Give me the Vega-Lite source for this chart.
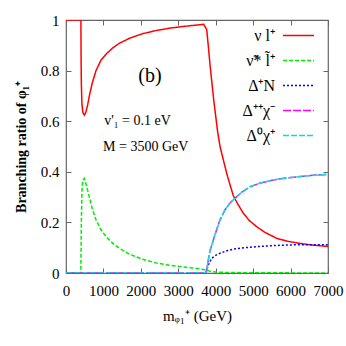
{
  "$schema": "https://vega.github.io/schema/vega-lite/v6.json",
  "width": 262,
  "height": 253,
  "autosize": "none",
  "padding": {"left": 66, "top": 20, "right": 18, "bottom": 73},
  "background": "white",
  "config": {
    "view": {"stroke": "#666666", "strokeWidth": 1.2},
    "font": "Liberation Serif"
  },
  "datasets": {
    "curves": [
      {"m": 0, "br": 1, "ch": "ν l⁺"},
      {"m": 398, "br": 1, "ch": "ν l⁺"},
      {"m": 403, "br": 0.85, "ch": "ν l⁺"},
      {"m": 410, "br": 0.75, "ch": "ν l⁺"},
      {"m": 425, "br": 0.67, "ch": "ν l⁺"},
      {"m": 450, "br": 0.635, "ch": "ν l⁺"},
      {"m": 489, "br": 0.624, "ch": "ν l⁺"},
      {"m": 530, "br": 0.635, "ch": "ν l⁺"},
      {"m": 580, "br": 0.665, "ch": "ν l⁺"},
      {"m": 623, "br": 0.7, "ch": "ν l⁺"},
      {"m": 700, "br": 0.75, "ch": "ν l⁺"},
      {"m": 802, "br": 0.8, "ch": "ν l⁺"},
      {"m": 930, "br": 0.84, "ch": "ν l⁺"},
      {"m": 1069, "br": 0.865, "ch": "ν l⁺"},
      {"m": 1250, "br": 0.89, "ch": "ν l⁺"},
      {"m": 1425, "br": 0.908, "ch": "ν l⁺"},
      {"m": 1700, "br": 0.928, "ch": "ν l⁺"},
      {"m": 2049, "br": 0.946, "ch": "ν l⁺"},
      {"m": 2400, "br": 0.958, "ch": "ν l⁺"},
      {"m": 2779, "br": 0.968, "ch": "ν l⁺"},
      {"m": 3100, "br": 0.974, "ch": "ν l⁺"},
      {"m": 3492, "br": 0.98, "ch": "ν l⁺"},
      {"m": 3680, "br": 0.983, "ch": "ν l⁺"},
      {"m": 3760, "br": 0.962, "ch": "ν l⁺"},
      {"m": 3800, "br": 0.9, "ch": "ν l⁺"},
      {"m": 3850, "br": 0.82, "ch": "ν l⁺"},
      {"m": 3950, "br": 0.68, "ch": "ν l⁺"},
      {"m": 4050, "br": 0.56, "ch": "ν l⁺"},
      {"m": 4115, "br": 0.5, "ch": "ν l⁺"},
      {"m": 4204, "br": 0.447, "ch": "ν l⁺"},
      {"m": 4300, "br": 0.39, "ch": "ν l⁺"},
      {"m": 4471, "br": 0.305, "ch": "ν l⁺"},
      {"m": 4600, "br": 0.27, "ch": "ν l⁺"},
      {"m": 4738, "br": 0.236, "ch": "ν l⁺"},
      {"m": 4900, "br": 0.207, "ch": "ν l⁺"},
      {"m": 5095, "br": 0.183, "ch": "ν l⁺"},
      {"m": 5300, "br": 0.162, "ch": "ν l⁺"},
      {"m": 5630, "br": 0.137, "ch": "ν l⁺"},
      {"m": 5900, "br": 0.126, "ch": "ν l⁺"},
      {"m": 6253, "br": 0.117, "ch": "ν l⁺"},
      {"m": 6600, "br": 0.11, "ch": "ν l⁺"},
      {"m": 7000, "br": 0.105, "ch": "ν l⁺"},

      {"m": 0, "br": 0, "ch": "ν̃* l̃⁺"},
      {"m": 395, "br": 0, "ch": "ν̃* l̃⁺"},
      {"m": 400, "br": 0.05, "ch": "ν̃* l̃⁺"},
      {"m": 410, "br": 0.2, "ch": "ν̃* l̃⁺"},
      {"m": 425, "br": 0.32, "ch": "ν̃* l̃⁺"},
      {"m": 445, "br": 0.365, "ch": "ν̃* l̃⁺"},
      {"m": 489, "br": 0.374, "ch": "ν̃* l̃⁺"},
      {"m": 540, "br": 0.35, "ch": "ν̃* l̃⁺"},
      {"m": 623, "br": 0.3, "ch": "ν̃* l̃⁺"},
      {"m": 700, "br": 0.255, "ch": "ν̃* l̃⁺"},
      {"m": 802, "br": 0.21, "ch": "ν̃* l̃⁺"},
      {"m": 930, "br": 0.172, "ch": "ν̃* l̃⁺"},
      {"m": 1069, "br": 0.144, "ch": "ν̃* l̃⁺"},
      {"m": 1250, "br": 0.117, "ch": "ν̃* l̃⁺"},
      {"m": 1425, "br": 0.098, "ch": "ν̃* l̃⁺"},
      {"m": 1700, "br": 0.074, "ch": "ν̃* l̃⁺"},
      {"m": 2049, "br": 0.054, "ch": "ν̃* l̃⁺"},
      {"m": 2400, "br": 0.04, "ch": "ν̃* l̃⁺"},
      {"m": 2779, "br": 0.03, "ch": "ν̃* l̃⁺"},
      {"m": 3100, "br": 0.024, "ch": "ν̃* l̃⁺"},
      {"m": 3492, "br": 0.018, "ch": "ν̃* l̃⁺"},
      {"m": 3714, "br": 0.013, "ch": "ν̃* l̃⁺"},
      {"m": 3760, "br": 0.011, "ch": "ν̃* l̃⁺"},
      {"m": 3850, "br": 0.007, "ch": "ν̃* l̃⁺"},
      {"m": 4000, "br": 0.004, "ch": "ν̃* l̃⁺"},
      {"m": 4300, "br": 0.002, "ch": "ν̃* l̃⁺"},
      {"m": 5000, "br": 0.001, "ch": "ν̃* l̃⁺"},
      {"m": 7000, "br": 0, "ch": "ν̃* l̃⁺"},

      {"m": 0, "br": 0, "ch": "Δ⁺N"},
      {"m": 3730, "br": 0, "ch": "Δ⁺N"},
      {"m": 3760, "br": 0.01, "ch": "Δ⁺N"},
      {"m": 3803, "br": 0.032, "ch": "Δ⁺N"},
      {"m": 3893, "br": 0.058, "ch": "Δ⁺N"},
      {"m": 4000, "br": 0.07, "ch": "Δ⁺N"},
      {"m": 4115, "br": 0.078, "ch": "Δ⁺N"},
      {"m": 4300, "br": 0.088, "ch": "Δ⁺N"},
      {"m": 4471, "br": 0.094, "ch": "Δ⁺N"},
      {"m": 4700, "br": 0.099, "ch": "Δ⁺N"},
      {"m": 5095, "br": 0.104, "ch": "Δ⁺N"},
      {"m": 5500, "br": 0.108, "ch": "Δ⁺N"},
      {"m": 5986, "br": 0.111, "ch": "Δ⁺N"},
      {"m": 6500, "br": 0.112, "ch": "Δ⁺N"},
      {"m": 7000, "br": 0.112, "ch": "Δ⁺N"},

      {"m": 0, "br": 0, "ch": "Δ⁺⁺χ⁻"},
      {"m": 3730, "br": 0, "ch": "Δ⁺⁺χ⁻"},
      {"m": 3760, "br": 0.01, "ch": "Δ⁺⁺χ⁻"},
      {"m": 3800, "br": 0.05, "ch": "Δ⁺⁺χ⁻"},
      {"m": 3850, "br": 0.09, "ch": "Δ⁺⁺χ⁻"},
      {"m": 3937, "br": 0.13, "ch": "Δ⁺⁺χ⁻"},
      {"m": 4000, "br": 0.16, "ch": "Δ⁺⁺χ⁻"},
      {"m": 4115, "br": 0.21, "ch": "Δ⁺⁺χ⁻"},
      {"m": 4250, "br": 0.25, "ch": "Δ⁺⁺χ⁻"},
      {"m": 4400, "br": 0.28, "ch": "Δ⁺⁺χ⁻"},
      {"m": 4516, "br": 0.295, "ch": "Δ⁺⁺χ⁻"},
      {"m": 4700, "br": 0.32, "ch": "Δ⁺⁺χ⁻"},
      {"m": 4917, "br": 0.341, "ch": "Δ⁺⁺χ⁻"},
      {"m": 5200, "br": 0.356, "ch": "Δ⁺⁺χ⁻"},
      {"m": 5540, "br": 0.368, "ch": "Δ⁺⁺χ⁻"},
      {"m": 5900, "br": 0.376, "ch": "Δ⁺⁺χ⁻"},
      {"m": 6253, "br": 0.381, "ch": "Δ⁺⁺χ⁻"},
      {"m": 6600, "br": 0.386, "ch": "Δ⁺⁺χ⁻"},
      {"m": 7000, "br": 0.39, "ch": "Δ⁺⁺χ⁻"},

      {"m": 0, "br": 0, "ch": "Δ⁰χ⁺"},
      {"m": 3730, "br": 0, "ch": "Δ⁰χ⁺"},
      {"m": 3760, "br": 0.01, "ch": "Δ⁰χ⁺"},
      {"m": 3800, "br": 0.05, "ch": "Δ⁰χ⁺"},
      {"m": 3850, "br": 0.09, "ch": "Δ⁰χ⁺"},
      {"m": 3937, "br": 0.13, "ch": "Δ⁰χ⁺"},
      {"m": 4000, "br": 0.16, "ch": "Δ⁰χ⁺"},
      {"m": 4115, "br": 0.21, "ch": "Δ⁰χ⁺"},
      {"m": 4250, "br": 0.25, "ch": "Δ⁰χ⁺"},
      {"m": 4400, "br": 0.28, "ch": "Δ⁰χ⁺"},
      {"m": 4516, "br": 0.295, "ch": "Δ⁰χ⁺"},
      {"m": 4700, "br": 0.32, "ch": "Δ⁰χ⁺"},
      {"m": 4917, "br": 0.341, "ch": "Δ⁰χ⁺"},
      {"m": 5200, "br": 0.356, "ch": "Δ⁰χ⁺"},
      {"m": 5540, "br": 0.368, "ch": "Δ⁰χ⁺"},
      {"m": 5900, "br": 0.376, "ch": "Δ⁰χ⁺"},
      {"m": 6253, "br": 0.381, "ch": "Δ⁰χ⁺"},
      {"m": 6600, "br": 0.386, "ch": "Δ⁰χ⁺"},
      {"m": 7000, "br": 0.39, "ch": "Δ⁰χ⁺"}
    ],
    "notes": [
      {"m": 2245, "br": 0.78, "t": "(b)", "k": "big"},
      {"m": 1020, "br": 0.6, "t": "v'₁ = 0.1 eV", "k": "small"},
      {"m": 990, "br": 0.5, "t": "M = 3500 GeV", "k": "small"}
    ]
  },
  "resolve": {"axis": {"x": "independent", "y": "independent"}},
  "layer": [
    {
      "data": {"name": "curves"},
      "mark": {"type": "line", "strokeWidth": 1.5, "clip": true},
      "encoding": {
        "x": {
          "field": "m", "type": "quantitative",
          "scale": {"domain": [0, 7000], "nice": false},
          "axis": {
            "orient": "bottom",
            "values": [0, 1000, 2000, 3000, 4000, 5000, 6000, 7000],
            "format": "d", "grid": false, "domain": false,
            "labelOverlap": false, "labelFlush": false,
            "tickSize": -5, "tickColor": "#666666",
            "labelFont": "Liberation Serif", "labelFontSize": 15, "labelColor": "black",
            "labelPadding": 15,
            "title": "mᵩ₁⁺ (GeV)", "titleFont": "Liberation Serif", "titleFontSize": 15,
            "titleFontWeight": "normal", "titleColor": "black", "titlePadding": 10
          }
        },
        "y": {
          "field": "br", "type": "quantitative",
          "scale": {"domain": [0, 1], "nice": false},
          "axis": {
            "orient": "left",
            "values": [0, 0.2, 0.4, 0.6, 0.8, 1],
            "format": ".1~f", "grid": false, "domain": false,
            "labelOverlap": false, "labelFlush": false,
            "tickSize": -5, "tickColor": "#666666",
            "labelFont": "Liberation Serif", "labelFontSize": 15, "labelColor": "black",
            "labelPadding": 12,
            "title": "Branching ratio of φ₁⁺", "titleFont": "Liberation Serif", "titleFontSize": 14,
            "titleFontWeight": "bold", "titleColor": "black", "titlePadding": 12
          }
        },
        "color": {
          "field": "ch", "type": "nominal",
          "scale": {
            "domain": ["ν l⁺", "ν̃* l̃⁺", "Δ⁺N", "Δ⁺⁺χ⁻", "Δ⁰χ⁺"],
            "range": ["#ff0000", "#00ee00", "#0000ff", "#ff00ff", "#00e0e0"]
          },
          "legend": {
            "orient": "none", "legendX": 216, "legendY": -1, "title": null,
            "symbolType": "stroke", "symbolSize": 961, "symbolStrokeWidth": 1.5,
            "labelFont": "Liberation Serif", "labelFontSize": 16, "labelColor": "black",
            "labelAlign": "right", "labelOffset": -40, "symbolOffset": 0, "rowPadding": -11,
            "padding": 0
          }
        },
        "strokeDash": {
          "field": "ch", "type": "nominal",
          "scale": {
            "domain": ["ν l⁺", "ν̃* l̃⁺", "Δ⁺N", "Δ⁺⁺χ⁻", "Δ⁰χ⁺"],
            "range": [[1, 0], [4, 2], [2, 2], [8, 2], [6, 2]]
          },
          "legend": null
        }
      }
    },
    {
      "data": {"name": "curves"},
      "mark": {"type": "line", "opacity": 0},
      "encoding": {
        "x": {
          "field": "m", "type": "quantitative",
          "axis": {"orient": "top", "values": [0, 1000, 2000, 3000, 4000, 5000, 6000, 7000],
            "labels": false, "title": null, "grid": false, "domain": false,
            "tickSize": -5, "tickColor": "#666666"}
        },
        "y": {
          "field": "br", "type": "quantitative",
          "axis": {"orient": "right", "values": [0, 0.2, 0.4, 0.6, 0.8, 1],
            "labels": false, "title": null, "grid": false, "domain": false,
            "tickSize": -5, "tickColor": "#666666"}
        }
      }
    },
    {
      "data": {"name": "notes"},
      "transform": [{"filter": "datum.k === 'big'"}],
      "mark": {"type": "text", "font": "Liberation Serif", "fontSize": 20, "align": "center", "baseline": "middle", "color": "black"},
      "encoding": {
        "x": {"field": "m", "type": "quantitative", "axis": null},
        "y": {"field": "br", "type": "quantitative", "axis": null},
        "text": {"field": "t"}
      }
    },
    {
      "data": {"name": "notes"},
      "transform": [{"filter": "datum.k === 'small'"}],
      "mark": {"type": "text", "font": "Liberation Serif", "fontSize": 14, "align": "left", "baseline": "middle", "color": "black"},
      "encoding": {
        "x": {"field": "m", "type": "quantitative", "axis": null},
        "y": {"field": "br", "type": "quantitative", "axis": null},
        "text": {"field": "t"}
      }
    }
  ]
}
